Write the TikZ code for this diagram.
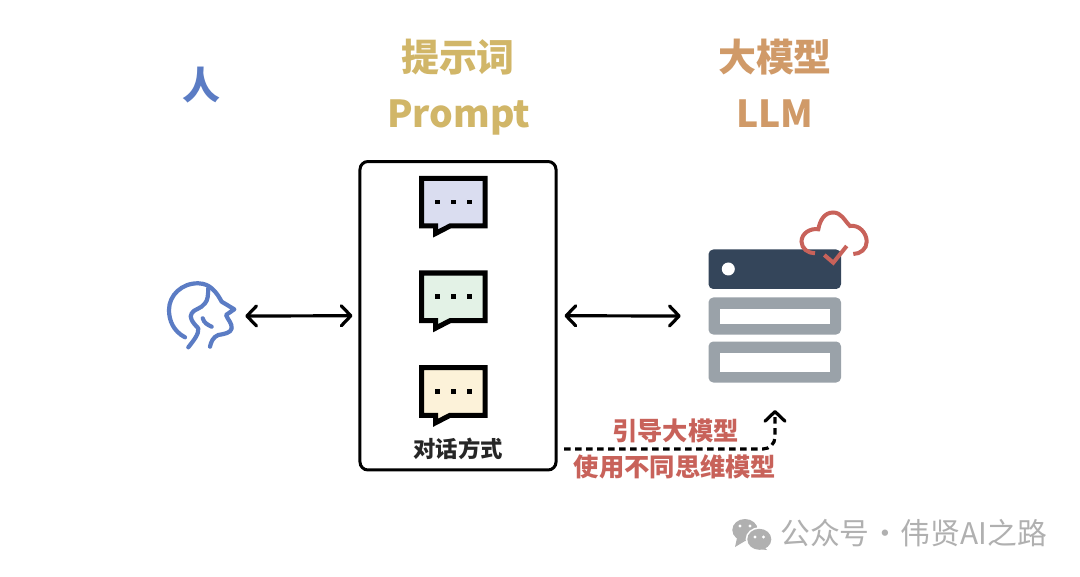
\documentclass[tikz,border=0pt]{standalone}
\usepackage{fontspec}
\setmainfont{Noto Sans CJK SC}
\usetikzlibrary{arrows.meta,positioning}
\definecolor{humanblue}{HTML}{5B7CC4}
\definecolor{promptgold}{HTML}{D1B668}
\definecolor{llmorange}{HTML}{D09A68}
\definecolor{guidered}{HTML}{C8625A}
\definecolor{serverdark}{HTML}{34455A}
\definecolor{servergrey}{HTML}{9AA2A9}
\definecolor{markgrey}{HTML}{B0B0B0}
\definecolor{bubblea}{HTML}{DADDF0}
\definecolor{bubbleb}{HTML}{E3F2E6}
\definecolor{bubblec}{HTML}{FCF2D9}
\tikzset{
  title/.style={font=\fontsize{27}{30}\selectfont\bfseries, inner sep=0pt},
  latinlab/.style={font=\fontsize{26.5}{30}\selectfont\bfseries, inner sep=0pt, anchor=base},
  anchorbox/.style={minimum height=2.2cm, inner sep=0pt},
  promptbox/.style={draw=black, line width=0.075cm, rounded corners=0.2cm, minimum width=4.9cm,
                    minimum height=7.71cm, inner sep=0pt, fill=white},
  barb/.tip={Straight Barb[length=2.4mm,width=5mm,line width=0.8mm,round]},
  msg/.style={barb-barb, line width=0.08cm, line cap=round},
  guide/.style={-barb, line width=0.08cm,
                dash pattern=on 0.165cm off 0.11cm, rounded corners=0.3cm},
  glab/.style={font=\fontsize{18}{20}\selectfont\bfseries, text=guidered, inner sep=0pt},
  bubble/.style={draw=black, line width=0.125cm, miter limit=10},
  face/.style={draw=humanblue, line width=0.105cm, line cap=round, line join=round},
  serverbar/.style={fill=servergrey, rounded corners=0.12cm},
  cloudline/.style={draw=guidered, line width=0.1cm},
}
\begin{document}
\begin{tikzpicture}[x=0.025cm, y=-0.025cm]
\useasboundingbox (0,0) rectangle (1080,577);
\fill[white] (0,0) rectangle (1080,577);

\node[title, text=humanblue] (humanlab) at (201,85) {人};
\node[title, text=promptgold] (promptlab) at (458,57) {提示词};
\node[latinlab, text=promptgold] (promptname) at (458.5,127.5) {Prompt};
\node[title, text=llmorange] (llmlab) at (775,57) {大模型};
\node[latinlab, text=llmorange] (llmname) at (775,127.5) {LLM};

\node[promptbox] (prompt) at (458,315.75) {};
\node[anchorbox, minimum width=2.2cm] (human) at (201,316) {};
\node[anchorbox, minimum width=4.7cm] (server) at (775,316) {};

\draw[face] (185,337.3) .. controls (173,331) and (169,320) .. (169,310)
  .. controls (169,295) and (182,283) .. (198.3,283.3)
  .. controls (205,283.5) and (209,286) .. (211.7,288.3)
  .. controls (217,293) and (219,297) .. (221.7,301.7)
  -- (234.3,309.3) -- (226,315)
  .. controls (228,320) and (232,323) .. (231.7,328.3)
  .. controls (231,333) and (224,334) .. (218.3,335)
  .. controls (213,337) and (211,342) .. (210,346.7);
\draw[face] (208.3,288.3) .. controls (208,295) and (208,300) .. (205,303.3)
  .. controls (201,309) and (194,309) .. (191.7,313.3)
  .. controls (189,317) and (192,322) .. (198.3,328.3)
  .. controls (199,334) and (194,340) .. (188.3,347.3);
\draw[face] (202.7,318.3) .. controls (204,323) and (208,325) .. (211.7,326.7);

\foreach \i/\shade/\yy in {0/bubblea/0, 1/bubbleb/94.7, 2/bubblec/189.3} {
  \draw[bubble, fill=\shade] (421.5,178.3+\yy) -- (485,178.3+\yy) -- (485,226+\yy)
    -- (450,226+\yy) -- (435.5,233.5+\yy) -- (435.5,226+\yy) -- (421.5,226+\yy) -- cycle;
  \foreach \dotx in {437.3,453.3,469.3}
    \fill (\dotx-2.4,199.6+\yy) rectangle (\dotx+2.4,204.4+\yy);
}
\node[font=\fontsize{15.9}{18}\selectfont\bfseries, text=black!85, inner sep=0pt] (talk) at (458,448.5) {对话方式};

\fill[serverdark, rounded corners=0.12cm] (708.5,249.5) rectangle (841,289);
\fill[white] (728.3,269) circle (6.5);
\fill[serverbar] (708.5,297.5) rectangle (841,334.5);
\fill[white] (719.5,308.5) rectangle (830,323.5);
\fill[serverbar] (708.5,341.5) rectangle (841,382.5);
\fill[white] (719.5,352.5) rectangle (830,371.5);

\draw[cloudline] (815,253.3) to[out=180,in=270] (801.5,241.5) to[out=90,in=170] (818.3,229.3)
  to[out=80,in=180] (833,212.5) to[out=0,in=135] (850,226)
  to[out=10,in=90] (866.7,241.7) to[out=270,in=0] (853.3,254);
\draw[cloudline] (824.3,255) -- (833.3,262.7) -- (846.7,246);

\draw[msg, shorten >=0.15cm] (human.east) -- (prompt.west);
\draw[msg, shorten <=0.175cm] (prompt.east) -- (server.west);

\coordinate (guidefrom) at (564,449);
\coordinate (guideto) at (775,410);
\draw[guide] (guidefrom) -| (guideto);
\node[glab] (guideup) at (675.5,431) {引导大模型};
\node[glab] (guidedown) at (675,467) {使用不同思维模型};

\fill[markgrey] (745,530) ellipse (12.7 and 11);
\fill[markgrey] (737,538) -- (735,547) -- (745,541) -- cycle;
\fill[white] (759.3,539.3) ellipse (13.7 and 12);
\fill[markgrey] (759.3,539.3) ellipse (12 and 10.5);
\fill[markgrey] (764,547) -- (767,550) -- (758,549) -- cycle;
\foreach \dotx/\doty in {740/526,750/526,755/537,763.5/537}
  \fill[white] (\dotx,\doty) circle (1.7);
\node[font=\fontsize{21.2}{24}\selectfont, text=markgrey, anchor=west, inner sep=0pt] (mark) at (780,533) {公众号\hspace{-0.2em} · \hspace{-0.2em}伟贤AI之路};
\end{tikzpicture}
\end{document}
